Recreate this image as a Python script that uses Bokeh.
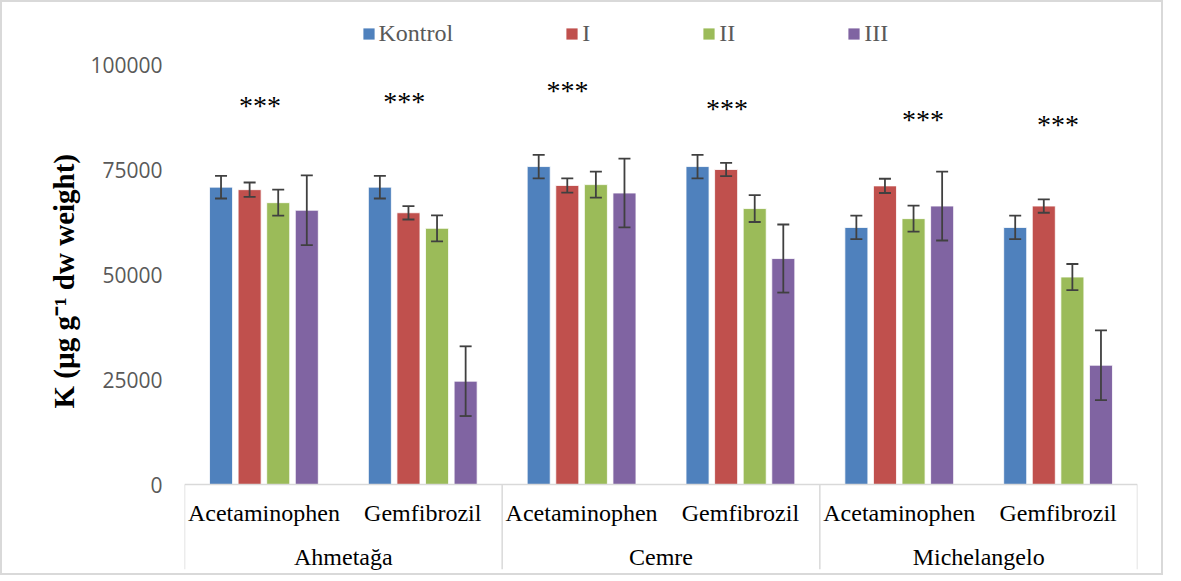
from bokeh.plotting import figure
from bokeh.models import (ColumnDataSource, FactorRange, FixedTicker, BasicTickFormatter,
                          Range1d, Legend, Title)
from bokeh.transform import dodge
from bokeh.core.properties import value
from bokeh.embed import file_html
from bokeh.resources import INLINE

# ---------------- data ----------------
locations = ["Ahmetağa", "Cemre", "Michelangelo"]
drugs = ["Acetaminophen", "Gemfibrozil"]
series = ["Kontrol", "I", "II", "III"]

kontrol = [70800, 70800, 75700, 75700, 61200, 61200]
treat_1 = [70200, 64700, 71200, 75000, 71100, 66300]
treat_2 = [67100, 61000, 71400, 65700, 63300, 49400]
treat_3 = [65300, 24600, 69400, 53800, 66300, 28400]

err_kontrol = [2700, 2700, 2800, 2800, 2800, 2800]
err_1 = [1700, 1600, 1700, 1600, 1700, 1600]
err_2 = [3100, 3100, 3100, 3200, 3100, 3100]
err_3 = [8300, 8300, 8200, 8100, 8200, 8300]

star_text = ["***"] * 6
star_y = [90300, 91200, 93800, 89500, 86900, 85700]
star_dx = [-0.025, -0.116, -0.088, -0.085, 0.15, 0.0]

y_ticks = [0, 25000, 50000, 75000, 100000]
y_label = "K  (µg g⁻¹ dw weight)"

colors = ["#4F81BD", "#C0504D", "#9BBB59", "#8064A2"]

# ---------------- layout constants ----------------
ORIGIN = 3                      # observed page offset of the figure
PX_PER_UNIT = 4.2 / 1000.0      # pixels per data unit
ZERO_PX = 485 - ORIGIN          # y of zero inside figure
FIG_W, FIG_H = 1163, 575
FRAME_BOTTOM = 573
FRAME_LEFT_PAGE, FRAME_RIGHT_PAGE = 185, 1138
y_top = ZERO_PX / PX_PER_UNIT
y_bot = -(FRAME_BOTTOM - ZERO_PX) / PX_PER_UNIT

factors = [(loc, d) for loc in locations for d in drugs]

p = figure(width=FIG_W, height=FIG_H, output_backend="svg", toolbar_location=None,
           x_range=FactorRange(*factors, range_padding=0, group_padding=0,
                               factor_padding=0, subgroup_padding=0),
           y_range=Range1d(y_bot, y_top), x_axis_location=None,
           min_border_left=FRAME_LEFT_PAGE - ORIGIN,
           min_border_right=FIG_W - (FRAME_RIGHT_PAGE - ORIGIN),
           min_border_top=0, min_border_bottom=FIG_H - FRAME_BOTTOM)
p.styles = {"border": "2px solid #d9d9d9", "box-sizing": "border-box"}
p.outline_line_color = None
p.xgrid.visible = False
p.ygrid.visible = False

# y axis
ya = p.yaxis[0]
ya.ticker = FixedTicker(ticks=y_ticks)
ya.formatter = BasicTickFormatter(use_scientific=False)
ya.axis_line_color = None
ya.major_tick_line_color = None
ya.minor_tick_line_color = None
ya.major_tick_out = 0
ya.major_tick_in = 0
ya.major_label_standoff = 22
ya.major_label_text_font = "Open Sans"
ya.major_label_text_font_size = "21px"
ya.major_label_text_color = "#595959"

# axis title as a side title, started where the reference's title starts
title_start_px = 409                         # page y where the title text begins
p.add_layout(Title(text=y_label, align="left", vertical_align="top",
                   offset=(FRAME_BOTTOM + ORIGIN) - title_start_px, standoff=12,
                   text_font="Liberation Serif", text_font_style="bold",
                   text_font_size="29px", text_color="#000000"), "left")

# ---------------- bars ----------------
data = dict(x=factors)
vals = [kontrol, treat_1, treat_2, treat_3]
errs = [err_kontrol, err_1, err_2, err_3]
for i, (v, e) in enumerate(zip(vals, errs)):
    data[f"v{i}"] = v
    data[f"lo{i}"] = [a - b for a, b in zip(v, e)]
    data[f"hi{i}"] = [a + b for a, b in zip(v, e)]
src = ColumnDataSource(data)

offsets = [-0.27, -0.09, 0.09, 0.27]
bar_w = 0.145
items = []
for i, name in enumerate(series):
    xd = dodge("x", offsets[i], range=p.x_range)
    r = p.vbar(x=xd, top=f"v{i}", width=bar_w, bottom=0, source=src,
               fill_color=colors[i], line_color="white", line_width=0.8)
    items.append((name, [r]))

for i in range(4):
    xd = dodge("x", offsets[i], range=p.x_range)
    p.segment(x0=xd, y0=f"lo{i}", x1=xd, y1=f"hi{i}", source=src,
              line_color="#404040", line_width=1.8)
    p.scatter(x=xd, y=f"lo{i}", marker="dash", size=12, source=src,
              line_color="#404040", line_width=1.8)
    p.scatter(x=xd, y=f"hi{i}", marker="dash", size=12, source=src,
              line_color="#404040", line_width=1.8)

# significance markers
star_src = ColumnDataSource(dict(x=[(f[0], f[1], dx) for f, dx in zip(factors, star_dx)],
                                 y=star_y, t=star_text))
p.text(x="x", y="y", text="t", source=star_src, text_align="center",
       text_baseline="alphabetic", text_font=value("Liberation Serif"),
       text_font_size="28px", text_color="#000000")

# ---------------- category table axis ----------------
table_color = "#d9d9d9"
first_f, last_f = factors[0], factors[-1]
p.segment(x0=[(first_f[0], first_f[1], -0.5)], y0=[0],
          x1=[(last_f[0], last_f[1], 0.5)], y1=[0],
          line_color=table_color, line_width=1.5)
bx = [(loc, drugs[0], -0.5) for loc in locations] + [(last_f[0], last_f[1], 0.5)]
bottom_line = -20200
p.segment(x0=bx, y0=[0] * len(bx), x1=bx, y1=[bottom_line] * len(bx),
          line_color=table_color, line_width=1.5)

drug_y = -(513 - 485) / 4.2 * 1000
loc_y = -(557 - 485) / 4.2 * 1000
p.text(x=factors, y=[drug_y] * len(factors), text=[f[1] for f in factors],
       text_align="center", text_baseline="middle",
       text_font=value("Liberation Serif"), text_font_size="24px", text_color="#000000")
loc_x = [(loc, drugs[0], 0.5) for loc in locations]
p.text(x=loc_x, y=[loc_y] * len(locations), text=locations,
       text_align="center", text_baseline="middle",
       text_font=value("Liberation Serif"), text_font_size="24px", text_color="#000000")

# ---------------- legend ----------------
legend_bottom_px = 48                       # page y of the legend's lower edge
legend = Legend(items=items, orientation="horizontal",
                location=(363 - 1.5 - FRAME_LEFT_PAGE,
                          (FRAME_BOTTOM + ORIGIN) - legend_bottom_px),
                glyph_width=15, glyph_height=15, label_standoff=3, spacing=111,
                padding=0, margin=0, border_line_color=None,
                background_fill_alpha=0, label_text_font="Liberation Serif",
                label_text_font_size="24px", label_text_color="#595959",
                label_height=24, label_width=1)
p.add_layout(legend, "center")

open("out.html", "w").write(file_html(p, INLINE))
